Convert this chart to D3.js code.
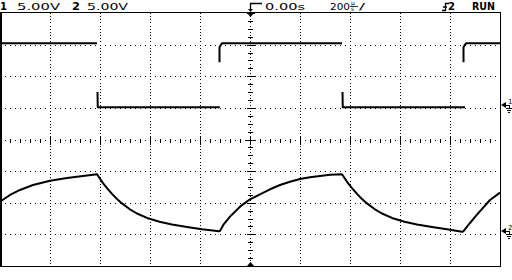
<!DOCTYPE html>
<html>
<head>
<meta charset="utf-8">
<script src="https://cdn.jsdelivr.net/npm/d3@7"></script>
<style>
body { margin: 0; background: #fff; }
svg { display: block; }
text { font-family: "DejaVu Sans", sans-serif; fill: #000; }
</style>
</head>
<body>
<svg width="512" height="280"></svg>
<script>
// 200us/div, 5V/div, trigger at centre of screen
const gridTimes = [-800, -600, -400, -200, 0, 200, 400, 600, 800]
const gridDivs = [-3, -2, -1, 0, 1, 2, 3]

// channel 1: square wave (null = edge too fast to draw)
const ch1Time = [-1000, -612, -611, -610, -609, -121, -120, -122, -122, -119, -112, 368, 369, 370, 371, 860, 861, 854, 854, 857, 864, 1000]
const ch1Volts = [10.2, 10.2, null, 2.5, 0.1, 0.1, null, 7.2, 9.6, 9.8, 10.2, 10.2, null, 2.5, 0.1, 0.1, null, 7.2, 9.6, 9.8, 10.2, 10.2]

// channel 2: RC charge / discharge
const ch2Time = [-1000, -960, -920, -868, -800, -732, -668, -612,
	-600, -588, -572, -552, -532, -512, -482, -452, -412, -362, -312, -252, -192, -124,
	-120, -107, -80, -40, 0, 40, 80, 120, 160, 200, 240, 280, 320, 368,
	380, 392, 408, 428, 448, 468, 498, 528, 568, 618, 668, 728, 788, 848,
	854, 880, 907, 960, 1000]
const ch2Volts = [5.17, 6.23, 7.02, 7.81, 8.49, 8.92, 9.23, 9.5,
	8.8, 8.1, 7.3, 6.4, 5.6, 4.9, 4.0, 3.3, 2.6, 2.0, 1.55, 1.15, 0.8, 0.5,
	0.54, 1.49, 2.8, 4.38, 5.55, 6.34, 7.13, 7.81, 8.33, 8.76, 9.03, 9.23, 9.42, 9.5,
	8.8, 8.1, 7.3, 6.4, 5.6, 4.9, 4.0, 3.3, 2.6, 2.0, 1.55, 1.15, 0.8, 0.4,
	0.5, 1.8, 3.07, 5.44, 6.6]

const ch1Offset = 1 // ground reference, in divisions from centre
const ch2Offset = -3
const voltsPerDiv = 5

const svg = d3.select("svg")
const x = d3.scaleLinear().domain([-1000, 1000]).range([0, 500])
const y = d3.scaleLinear().domain([-4, 4]).range([266, 13])

const grid = svg.append("g").attr("shape-rendering", "crispEdges").attr("stroke", "#000")

// dotted graticule
grid.selectAll(".vgrid").data(gridTimes).enter().append("line")
	.attr("x1", d => x(d) + 0.5).attr("x2", d => x(d) + 0.5)
	.attr("y1", y(4)).attr("y2", y(-4))
	.attr("stroke-dasharray", "1 2.1625")
grid.selectAll(".hgrid").data(gridDivs).enter().append("line")
	.attr("x1", x(-1000)).attr("x2", x(1000))
	.attr("y1", d => Math.round(y(d)) + 0.5).attr("y2", d => Math.round(y(d)) + 0.5)
	.attr("stroke-dasharray", "1 4")

// centre axes with minor ticks
const hTicks = d3.range(-1000, 1001, 40)
grid.selectAll(".htick").data(hTicks).enter().append("line")
	.attr("x1", d => x(d) + 0.5).attr("x2", d => x(d) + 0.5)
	.attr("y1", d => Math.round(y(0)) + 0.5 - (d % 200 === 0 ? 4 : 2))
	.attr("y2", d => Math.round(y(0)) + 0.5 + (d % 200 === 0 ? 4 : 2))
const vTicks = d3.range(-4, 4.01, 0.25)
grid.selectAll(".vtick").data(vTicks).enter().append("line")
	.attr("x1", d => x(0) + 0.5 - (d % 1 === 0 ? 4 : 2.5))
	.attr("x2", d => x(0) + 0.5 + (d % 1 === 0 ? 4 : 2.5))
	.attr("y1", d => Math.round(y(d)) + 0.5).attr("y2", d => Math.round(y(d)) + 0.5)
grid.append("line").attr("x1", x(0) - 5).attr("x2", x(0) + 6)
	.attr("y1", Math.round(y(0)) + 0.5).attr("y2", Math.round(y(0)) + 0.5)

// screen frame
grid.append("rect").attr("x", 0.5).attr("y", y(4) - 0.5)
	.attr("width", x(1000)).attr("height", y(-4) - y(4) + 0.5)
	.attr("fill", "none")
grid.append("line").attr("x1", 1.5).attr("x2", 1.5).attr("y1", y(4)).attr("y2", y(-4))

// trigger position markers
svg.append("path").attr("d", `M${x(0) - 3},${y(4)} L${x(0) + 4},${y(4)} L${x(0) + 0.5},${y(4) + 4} Z`)
svg.append("path").attr("d", `M${x(0) - 3},${y(-4)} L${x(0) + 4},${y(-4)} L${x(0) + 0.5},${y(-4) - 4} Z`)

function drawTrace(times, volts, offset) {
	const data = times.map((t, i) => ({ t: t, v: volts[i] }))
	const line = d3.line()
		.defined(d => d.v !== null)
		.x(d => x(d.t))
		.y(d => y(d.v / voltsPerDiv + offset))
	svg.append("path")
		.datum(data)
		.attr("fill", "none")
		.attr("stroke", "#000")
		.attr("stroke-width", 2)
		.attr("stroke-linejoin", "round")
		.attr("d", line)
}
drawTrace(ch1Time, ch1Volts, ch1Offset)
drawTrace(ch2Time, ch2Volts, ch2Offset)

// channel ground markers on the right
function groundMarker(label, offset) {
	const gy = Math.round(y(offset)) - 3
	const g = svg.append("g").attr("transform", `translate(501,${gy})`)
	g.append("path").attr("d", "M0,0 L5,-3 L5,3 Z")
	g.append("path").attr("d", "M5,0.5 H8.5 V3.5 M5,3.5 H11 M6,5.5 H10 M7,7.5 H9")
		.attr("stroke", "#000").attr("fill", "none").attr("shape-rendering", "crispEdges")
	g.append("text").attr("x", 7).attr("y", -1).attr("font-size", 7).text(label)
}
groundMarker("1", ch1Offset)
groundMarker("2", ch2Offset)

// status line
const header = [
	{ s: "1", x: 0, w: 7, bold: true },
	{ s: "5.00V", x: 17, w: 43 },
	{ s: "2", x: 72, w: 8, bold: true },
	{ s: "5.00V", x: 87, w: 41 },
	{ s: "0.00s", x: 265, w: 40 },
	{ s: "200", x: 330, w: 20 },
	{ s: "/", x: 359, w: 6 },
	{ s: "2", x: 448, w: 7, bold: true },
	{ s: "RUN", x: 472, w: 23, bold: true },
]
svg.selectAll(".hdr").data(header).enter().append("text")
	.attr("x", d => d.x).attr("y", 10)
	.attr("font-size", d => d.bold ? 10 : 9)
	.attr("font-weight", d => d.bold ? "bold" : "normal")
	.attr("textLength", d => d.w).attr("lengthAdjust", "spacingAndGlyphs")
	.text(d => d.s)
svg.append("text").attr("x", 351).attr("y", 5).attr("font-size", 6).text("µ")
svg.append("text").attr("x", 351).attr("y", 11).attr("font-size", 6).text("s")
svg.append("line").attr("x1", 350).attr("x2", 358).attr("y1", 6.5).attr("y2", 6.5)
	.attr("stroke", "#000").attr("stroke-width", 0.8)

// trigger delay and slope icons
svg.append("path").attr("d", "M250.5,11 V3.5 H262")
	.attr("stroke", "#000").attr("stroke-width", 1.3).attr("fill", "none")
svg.append("path").attr("d", "M248,9 L253,9 L250.5,12 Z")
svg.append("path").attr("d", "M442,10.5 H445.5 V3.5 H449 M443,7 H447")
	.attr("stroke", "#000").attr("stroke-width", 1.3).attr("fill", "none")
</script>
</body>
</html>
